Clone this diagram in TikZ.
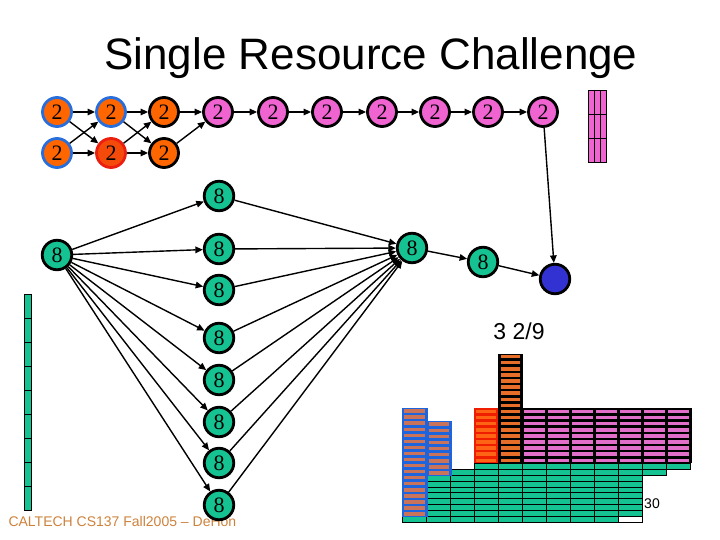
\documentclass[tikz,border=0pt]{standalone}
\usepackage{fontspec}
\setmainfont{Liberation Serif}
\newfontfamily\arialf{Liberation Sans}
\usetikzlibrary{arrows.meta}
\definecolor{orng}{RGB}{255,102,0}
\definecolor{bluebd}{RGB}{40,110,220}
\definecolor{redbd}{RGB}{235,30,15}
\definecolor{redfill}{RGB}{245,75,10}
\definecolor{pinkc}{RGB}{240,100,210}
\definecolor{greenc}{RGB}{20,195,145}
\definecolor{bluenode}{RGB}{50,50,210}
\definecolor{brownstripe}{RGB}{200,115,90}
\definecolor{barblue}{RGB}{30,100,220}
\definecolor{barred}{RGB}{240,30,0}
\definecolor{redstripe}{RGB}{255,100,20}
\definecolor{blackstripe}{RGB}{230,110,40}
\definecolor{pinkstripe}{RGB}{225,110,200}
\definecolor{footc}{RGB}{205,130,60}
% x0, x1, ybottom, n, h, bg, fg, inset
\newcommand\barcol[8]{%
  \fill[#6] (#1,{#3-#4*#5}) rectangle (#2,#3);
  \foreach \i in {1,...,#4} {\fill[#7] ({#1+#8},{#3-(\i-0.5)*#5-1.75}) rectangle ({#2-#8},{#3-(\i-0.5)*#5+1.75});}%
}
% x0, rowfrom, rowto
\newcommand\greencells[3]{%
  \foreach \k in {#2,...,#3} {\filldraw[fill=greenc,draw=black,line width=0.8pt] (#1,{522.3-\k*5.9}) rectangle ({#1+24},{522.3-(\k-1)*5.9});}%
}
\begin{document}
\begin{tikzpicture}[x=1pt,y=-1pt,
  nd/.style={circle,draw=black,line width=2.8pt,minimum size=29pt,inner sep=0pt,font=\fontsize{22}{22}\selectfont},
  pinknd/.style={nd,fill=pinkc},
  orngnd/.style={nd,fill=orng},
  bluend/.style={nd,fill=orng,draw=bluebd},
  rednd/.style={nd,fill=redfill,draw=redbd},
  greennd/.style={nd,fill=greenc,minimum size=29.5pt},
  sinknd/.style={nd,fill=bluenode,minimum size=29.5pt},
  arr/.style={-{Triangle[length=7.5pt,width=6.5pt]},line width=1.4pt},
  lbl/.style={font=\arialf\fontsize{#1}{#1}\selectfont}
]
\useasboundingbox (0,0) rectangle (720,540);

% title and footer
\node[lbl=44] (title) at (371,58) {Single Resource Challenge};
\node[lbl=14,anchor=west,text=footc] (foot) at (5,521) {CALTECH CS137 Fall2005 – DeHon};
\node[lbl=23] (frac) at (519,331) {3 2/9};
\node[lbl=14] (thirty) at (652,504) {30};

% small pink bar top right
\filldraw[fill=pinkc,draw=black,line width=0.8pt] (588,90) rectangle (606,162);
\draw[line width=0.8pt] (594,90) -- (594,162) (600,90) -- (600,162) (588,114) -- (606,114) (588,138) -- (606,138);

% green bar left
\foreach \j in {0,...,8} {\filldraw[fill=greenc,draw=black,line width=0.8pt] (24,{294+\j*24}) rectangle (31,{294+(\j+1)*24});}

% top nodes
\node[bluend] (a1) at (57,112) {2};
\node[bluend] (a2) at (111,112) {2};
\node[orngnd] (a3) at (164,112) {2};
\node[bluend] (b1) at (57,153) {2};
\node[rednd] (b2) at (111,153) {2};
\node[orngnd] (b3) at (164,153) {2};
\node[pinknd] (p1) at (218,112) {2};
\node[pinknd] (p2) at (273,112) {2};
\node[pinknd] (p3) at (327,112) {2};
\node[pinknd] (p4) at (382,112) {2};
\node[pinknd] (p5) at (435,112) {2};
\node[pinknd] (p6) at (488,112) {2};
\node[pinknd] (p7) at (543,112) {2};

% 8 nodes
\node[greennd] (s) at (57,255) {8};
\node[greennd] (c1) at (219,196) {8};
\node[greennd] (c2) at (219,249) {8};
\node[greennd] (c3) at (219,290) {8};
\node[greennd] (c4) at (219,338) {8};
\node[greennd] (c5) at (219,380) {8};
\node[greennd] (c6) at (219,422) {8};
\node[greennd] (c7) at (219,463) {8};
\node[greennd] (c8) at (219,505) {8};
\node[greennd] (m) at (412,248) {8};
\node[greennd] (r) at (483,262) {8};
\node[sinknd] (t) at (555,279) {};

% edges
\draw[arr] (a1) -- (a2);
\draw[arr] (a1) -- (b2);
\draw[arr] (b1) -- (a2);
\draw[arr] (b1) -- (b2);
\draw[arr] (a2) -- (a3);
\draw[arr] (a2) -- (b3);
\draw[arr] (b2) -- (a3);
\draw[arr] (b2) -- (b3);
\draw[arr] (a3) -- (p1);
\draw[arr] (b3) -- (p1);
\draw[arr] (p1) -- (p2);
\draw[arr] (p2) -- (p3);
\draw[arr] (p3) -- (p4);
\draw[arr] (p4) -- (p5);
\draw[arr] (p5) -- (p6);
\draw[arr] (p6) -- (p7);
\draw[arr] (p7) -- (t);
\foreach \c in {c1,c2,c3,c4,c5,c6,c7,c8} {
  \draw[arr] (s) -- (\c);
  \draw[arr] (\c) -- (m);
}
\draw[arr] (m) -- (r);
\draw[arr] (r) -- (t);

% bar chart: green cells
\greencells{402.3}{1}{1}
\greencells{426.3}{1}{8}
\greencells{450.3}{1}{9}
\foreach \cx in {474.3,498.3,522.3,546.3,570.3,594.3} {\greencells{\cx}{1}{10}}
\greencells{618.3}{2}{10}
\filldraw[fill=white,draw=black,line width=0.8pt] (618.3,516.4) rectangle (642.3,522.3);
\greencells{642.3}{9}{10}
\greencells{666.3}{10}{10}

% stacked bars
\barcol{426.5}{451.5}{476}{9}{6.1}{barblue}{brownstripe}{2.8}
\barcol{401.5}{427.5}{517}{18}{6.05}{barblue}{brownstripe}{2.8}
\barcol{473.5}{498.5}{463.3}{9}{6.1}{barred}{redstripe}{2.3}
\fill[black] (522.3,408.4) rectangle (691,463.3);
\foreach \cx in {522.3,546.3,570.3,594.3,618.3,642.3,666.3} {\barcol{\cx}{\cx+24}{463.3}{9}{6.1}{black}{pinkstripe}{1.6}}
\fill[black] (690,408.4) rectangle (691.5,463.3);
\barcol{498.3}{522.8}{463.3}{18}{6.1}{black}{blackstripe}{2.7}
\end{tikzpicture}
\end{document}
